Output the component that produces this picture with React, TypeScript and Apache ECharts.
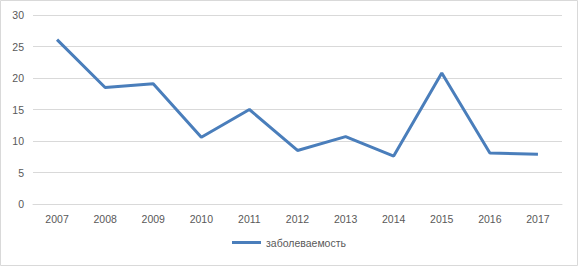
import React, { useEffect, useRef } from "react";
import * as echarts from "echarts";

const years = ["2007", "2008", "2009", "2010", "2011", "2012", "2013", "2014", "2015", "2016", "2017"];
const incidence = [26.1, 18.5, 19.1, 10.6, 15.0, 8.5, 10.7, 7.6, 20.8, 8.1, 7.9];
const seriesName = "заболеваемость";

export default function App() {
  const ref = useRef<HTMLDivElement>(null);
  useEffect(() => {
    document.body.style.margin = "0";
    const chart = echarts.init(ref.current!, null, { renderer: "svg" });
    const labelColor = "#595959";
    chart.setOption({
      animation: false,
      backgroundColor: "#ffffff",
      textStyle: { fontFamily: "Liberation Sans" },
      graphic: [
        {
          type: "rect",
          shape: { x: 0.5, y: 0.5, width: 577, height: 265 },
          style: { fill: "none", stroke: "#d9d9d9", lineWidth: 1 },
          silent: true,
        },
      ],
      grid: { left: 33, right: 16, top: 15, bottom: 62 },
      legend: {
        bottom: 13,
        left: "center",
        itemWidth: 29,
        itemHeight: 3,
        itemGap: 4,
        icon: "rect",
        textStyle: { color: labelColor, fontSize: 10.5, fontFamily: "Liberation Sans" },
        data: [seriesName],
      },
      xAxis: {
        type: "category",
        data: years,
        boundaryGap: true,
        axisLine: { show: true, lineStyle: { color: "#d9d9d9" } },
        axisTick: { show: false },
        axisLabel: { color: labelColor, fontSize: 10.5, margin: 9 },
      },
      yAxis: {
        type: "value",
        min: 0,
        max: 30,
        interval: 5,
        axisLine: { show: false },
        axisTick: { show: false },
        axisLabel: { color: labelColor, fontSize: 10.5, margin: 9 },
        splitLine: { lineStyle: { color: "#d9d9d9", width: 1 } },
      },
      series: [
        {
          name: seriesName,
          type: "line",
          data: incidence,
          symbol: "none",
          lineStyle: { color: "#4a7ebb", width: 3 },
          itemStyle: { color: "#4a7ebb" },
        },
      ],
    });
    return () => chart.dispose();
  }, []);
  return <div ref={ref} style={{ width: 578, height: 266 }} />;
}
